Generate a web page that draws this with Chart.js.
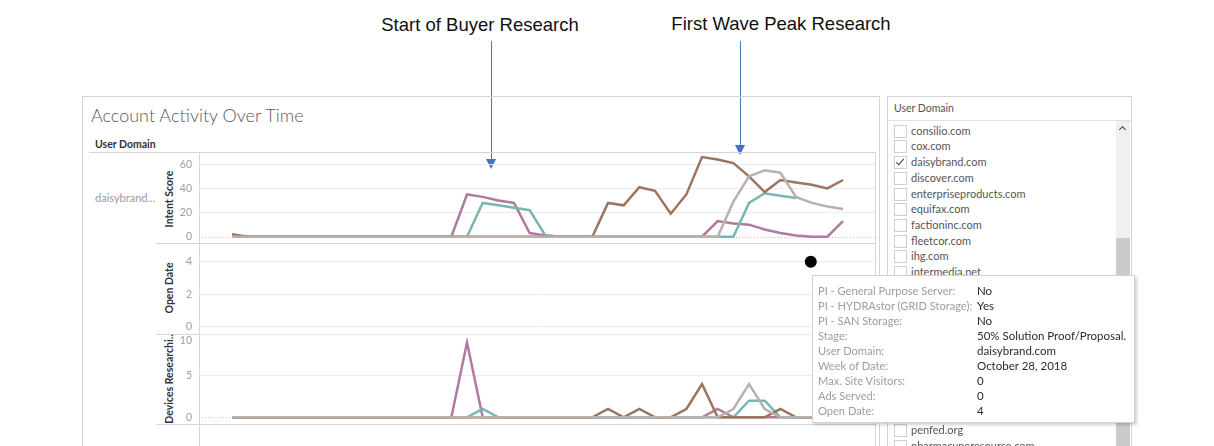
<!DOCTYPE html>
<html>
<head>
<meta charset="utf-8">
<script src="https://cdn.jsdelivr.net/npm/chart.js@4.4.1/dist/chart.umd.min.js"></script>
<style>
  html, body { margin:0; padding:0; background:#fff; }
  body { width:1214px; height:446px; position:relative; overflow:hidden; font-family: Lato, "Open Sans", sans-serif; }
  .abs { position:absolute; }
  .ann { position:absolute; width:320px; text-align:center; font-family:"Liberation Sans", Arial, sans-serif; font-size:18.5px; color:#111; line-height:1; white-space:nowrap; }
  .vline { position:absolute; width:1px; background:#4472c4; }
  .head { position:absolute; width:0; height:0; border-left:5.5px solid transparent; border-right:5.5px solid transparent; border-top:10px solid #4472c4; }
  .hl { position:absolute; height:1px; background:#d6d6d6; }
  .vl { position:absolute; width:1px; background:#d6d6d6; }
  .axt { position:absolute; transform:translate(-50%,-50%) rotate(-90deg); font-size:10.5px; font-weight:bold; color:#333; white-space:nowrap; line-height:1; }
  canvas { position:absolute; }
  .item { position:absolute; left:894px; height:14px; font-size:11px; color:#555; line-height:14px; white-space:nowrap; }
  .cb { position:absolute; left:0; top:1px; width:11px; height:11px; border:1px solid #cfcfcf; background:#fff; }
  .item span { position:absolute; left:17px; top:0; }
  .tt { position:absolute; line-height:1; white-space:nowrap; }
  .tl { color:#9d9d9d; font-size:11.1px; }
  .tv { color:#2b2b2b; font-size:11.5px; }
</style>
</head>
<body>
<script>
// ---------------- data ----------------
const weeks = ['Feb 11, 2018','Feb 18, 2018','Feb 25, 2018','Mar 4, 2018','Mar 11, 2018','Mar 18, 2018','Mar 25, 2018','Apr 1, 2018','Apr 8, 2018','Apr 15, 2018',
  'Apr 22, 2018','Apr 29, 2018','May 6, 2018','May 13, 2018','May 20, 2018','May 27, 2018','Jun 3, 2018','Jun 10, 2018','Jun 17, 2018','Jun 24, 2018',
  'Jul 1, 2018','Jul 8, 2018','Jul 15, 2018','Jul 22, 2018','Jul 29, 2018','Aug 5, 2018','Aug 12, 2018','Aug 19, 2018','Aug 26, 2018','Sep 2, 2018',
  'Sep 9, 2018','Sep 16, 2018','Sep 23, 2018','Sep 30, 2018','Oct 7, 2018','Oct 14, 2018','Oct 21, 2018','Oct 28, 2018','Nov 4, 2018','Nov 11, 2018'];

const intentBrown  = [2,0,0,0,0,0,0,0,0,0, 0,0,0,0,0,0,0,0,0,0, 0,0,0,0,28,26,41,38,19,35, 66,64,61,50,37,47,45,43,40,47];
const intentPurple = [0,0,0,0,0,0,0,0,0,0, 0,0,0,0,0,35,33,30,28,3, 1,0,0,0,0,0,0,0,0,0, 0,13,11,10,6,3,1,0,0,13];
const intentTeal   = [0,0,0,0,0,0,0,0,0,0, 0,0,0,0,0,0,28,26,24,22, 1,0,0,0,0,0,0,0,0,0, 0,0,0,28,36,34,32,null,null,null];
const intentGray   = [0,0,0,0,0,0,0,0,0,0, 0,0,0,0,0,0,0,0,0,0, 0,0,0,0,0,0,0,0,0,0, 0,0,29,50,55,53,33,28,25,23];

const openDate = [null,null,null,null,null,null,null,null,null,null, null,null,null,null,null,null,null,null,null,null,
  null,null,null,null,null,null,null,null,null,null, null,null,null,null,null,null,null,4,null,null];

const devBrown  = [0,0,0,0,0,0,0,0,0,0, 0,0,0,0,0,0,0,0,0,0, 0,0,0,0,1,0,1,0,0,1, 4,0,0,0,0,1,0,0,0,0];
const devPurple = [0,0,0,0,0,0,0,0,0,0, 0,0,0,0,0,9,0,0,0,0, 0,0,0,0,0,0,0,0,0,0, 0,1,0,0,0,0,0,0,0,0];
const devTeal   = [0,0,0,0,0,0,0,0,0,0, 0,0,0,0,0,0,1,0,0,0, 0,0,0,0,0,0,0,0,0,0, 0,0,0,2,2,0,0,0,0,0];
const devGray   = [0,0,0,0,0,0,0,0,0,0, 0,0,0,0,0,0,0,0,0,0, 0,0,0,0,0,0,0,0,0,0, 0,0,1,4,1,0,0,0,0,0];

const intentTicks = [0,20,40,60];
const openTicks = [0,2,4];
const devTicks = [0,5,10];

const domains = ['consilio.com','cox.com','daisybrand.com','discover.com','enterpriseproducts.com','equifax.com','factioninc.com','fleetcor.com','ihg.com','intermedia.net'];
const domainsLower = ['penfed.org','pharmacyneresource.com'];

const tipLabels = ['PI - General Purpose Server:','PI - HYDRAstor (GRID Storage):','PI - SAN Storage:','Stage:','User Domain:','Week of Date:','Max. Site Visitors:','Ads Served:','Open Date:'];
const tipValues = ['No','Yes','No','50% Solution Proof/Proposal.','daisybrand.com','October 28, 2018','0','0','4'];

const COLORS = { brown:'#9c755f', teal:'#76b7b2', purple:'#b07aa1', gray:'#bab0ac' };
</script>

<!-- annotations -->
<div class="ann" style="left:320px; top:16px;">Start of Buyer Research</div>
<div class="ann" style="left:621px; top:15px;">First Wave Peak Research</div>
<div class="vline" style="left:491px; top:41px; height:120px;"></div>
<div class="head" style="left:486px; top:159px;"></div>
<div class="vline" style="left:740px; top:41px; height:105px;"></div>
<div class="head" style="left:735px; top:145px;"></div>

<!-- main container -->
<div class="abs" style="left:82px; top:96px; width:796px; height:400px; border:1px solid #d4d4d4;"></div>
<div class="abs" style="left:91px; top:106px; font-size:18px; color:#5a5a5a; font-weight:300; line-height:1; white-space:nowrap;">Account Activity Over Time</div>
<div class="abs" style="left:95px; top:139px; font-size:10.5px; color:#333; font-weight:bold; line-height:1; white-space:nowrap;">User Domain</div>
<div class="abs" style="left:95px; top:192px; font-size:11px; color:#9a9a9a; line-height:1; white-space:nowrap;">daisybrand...</div>

<div class="hl" style="left:89px; top:152px; width:786px;"></div>
<div class="hl" style="left:156px; top:243px; width:719px;"></div>
<div class="hl" style="left:156px; top:334px; width:719px;"></div>
<div class="hl" style="left:156px; top:424px; width:719px;"></div>
<div class="vl" style="left:199px; top:152px; height:300px;"></div>
<div class="vl" style="left:875px; top:152px; height:300px;"></div>

<div class="axt" style="left:169px; top:199px;">Intent Score</div>
<div class="axt" style="left:169px; top:288px;">Open Date</div>
<div class="axt" style="left:169px; top:379px;">Devices Researchi..</div>

<canvas id="c1" style="left:150px; top:140px;" width="730" height="110"></canvas>
<canvas id="c2" style="left:150px; top:231px;" width="730" height="110"></canvas>
<canvas id="c3" style="left:150px; top:322px;" width="730" height="109"></canvas>

<!-- filter panel -->
<div class="abs" style="left:887px; top:96px; width:243px; height:400px; border:1px solid #d4d4d4;"></div>
<div class="abs" style="left:894px; top:103px; font-size:10.5px; color:#555; line-height:1; white-space:nowrap;">User Domain</div>
<div class="hl" style="left:888px; top:120px; width:243px; background:#e2e2e2;"></div>
<div class="abs" style="left:1116px; top:121px; width:14px; height:330px; background:#f0f0f0;"></div>
<div class="abs" style="left:1116px; top:238px; width:14px; height:220px; background:#cbcbcb;"></div>
<div class="abs" style="left:1120px; top:127px; width:4px; height:4px; border-left:1.5px solid #444; border-top:1.5px solid #444; transform:rotate(45deg);"></div>
<div id="list"></div>

<!-- tooltip -->
<div class="abs" id="tip" style="left:812px; top:275px; width:321px; height:146px; background:#fff; border:1px solid #d2d2d2; box-shadow:2px 2px 3px rgba(0,0,0,0.18);"></div>

<script>
// build filter list
const list = document.getElementById('list');
function addItem(name, yc, checked) {
  const d = document.createElement('div');
  d.className = 'item';
  d.style.top = (yc - 7) + 'px';
  d.innerHTML = '<div class="cb"></div><span>' + name + '</span>';
  if (checked) {
    const m = document.createElement('div');
    m.style.cssText = 'position:absolute; left:4px; top:2px; width:3px; height:7px; border-right:1.5px solid #333; border-bottom:1.5px solid #333; transform:rotate(40deg);';
    d.appendChild(m);
  }
  list.appendChild(d);
}
domains.forEach((n, i) => addItem(n, 130.7 + i * 15.7, n === 'daisybrand.com'));
domainsLower.forEach((n, i) => addItem(n, 430 + i * 15.7, false));

// tooltip text
const tip = document.getElementById('tip');
tipLabels.forEach((l, i) => {
  const y = 8.5 + i * 15;
  const a = document.createElement('div'); a.className = 'tt tl'; a.style.left = '5px'; a.style.top = (y + 0.3) + 'px'; a.textContent = l; tip.appendChild(a);
  const b = document.createElement('div'); b.className = 'tt tv'; b.style.left = '164px'; b.style.top = y + 'px'; b.textContent = tipValues[i]; tip.appendChild(b);
});

// ---------------- charts ----------------
const X_MIN = -2.106, X_MAX = 41.04;

const tickLabelPlugin = {
  id: 'tickLabels',
  afterDraw(chart) {
    const s = chart.scales.y, a = chart.chartArea, ctx = chart.ctx;
    ctx.save();
    ctx.font = '10.5px Lato, sans-serif';
    ctx.fillStyle = '#9e9e9e';
    ctx.textAlign = 'right';
    ctx.textBaseline = 'middle';
    s.ticks.forEach(t => {
      let y = s.getPixelForValue(t.value);
      y = Math.max(a.top + 7, Math.min(a.bottom - 6, y));
      ctx.fillText(String(t.value), a.left - 7, y);
    });
    ctx.restore();
  }
};
const zeroLinePlugin = {
  id: 'zeroLine',
  beforeDatasetsDraw(chart, args, opts) {
    if (!opts.show) return;
    const s = chart.scales.y, a = chart.chartArea, ctx = chart.ctx;
    const y = Math.round(s.getPixelForValue(0)) + 0.5;
    ctx.save();
    ctx.strokeStyle = '#c4c4c4';
    ctx.lineWidth = 1;
    ctx.setLineDash([1, 2]);
    ctx.beginPath(); ctx.moveTo(a.left, y); ctx.lineTo(a.right, y); ctx.stroke();
    ctx.restore();
  }
};

function pts(arr) { return arr.map((v, i) => ({ x: i, y: v })); }
function lineDs(label, arr, color) {
  return { label, data: pts(arr), borderColor: color, backgroundColor: color, borderWidth: 2.5,
           pointRadius: 0, tension: 0, spanGaps: false };
}

function makeChart(id, datasets, yMin, yMax, step, zero) {
  return new Chart(document.getElementById(id), {
    type: 'line',
    data: { labels: weeks, datasets },
    plugins: [tickLabelPlugin, zeroLinePlugin],
    options: {
      responsive: false,
      animation: false,
      events: [],
      layout: { padding: { left: 0, right: 5, top: 12, bottom: 7 } },
      plugins: { legend: { display: false }, tooltip: { enabled: false }, zeroLine: { show: zero } },
      scales: {
        x: { type: 'linear', min: X_MIN, max: X_MAX, display: false },
        y: {
          min: yMin, max: yMax,
          afterFit(scale) { scale.width = 49; },
          ticks: { display: false, stepSize: step, includeBounds: false },
          border: { display: false },
          grid: { drawTicks: false, color: ctx => (zero && ctx.tick && ctx.tick.value === 0) ? 'rgba(0,0,0,0)' : '#ececec' }
        }
      }
    }
  });
}

makeChart('c1', [
  lineDs('gray', intentGray, COLORS.gray),
  lineDs('brown', intentBrown, COLORS.brown),
  lineDs('teal', intentTeal, COLORS.teal),
  lineDs('purple', intentPurple, COLORS.purple)
], -5.22, 70.19, 20, true);

makeChart('c2', [
  { label: 'Open Date', data: pts(openDate), showLine: false, pointRadius: 6, pointHoverRadius: 6,
    backgroundColor: '#000', borderColor: '#000', borderWidth: 0 }
], -0.45, 5.15, 2, false);

makeChart('c3', [
  lineDs('gray', devGray, COLORS.gray),
  lineDs('brown', devBrown, COLORS.brown),
  lineDs('teal', devTeal, COLORS.teal),
  lineDs('purple', devPurple, COLORS.purple)
], -0.805, 10.02, 5, true);
</script>
</body>
</html>
